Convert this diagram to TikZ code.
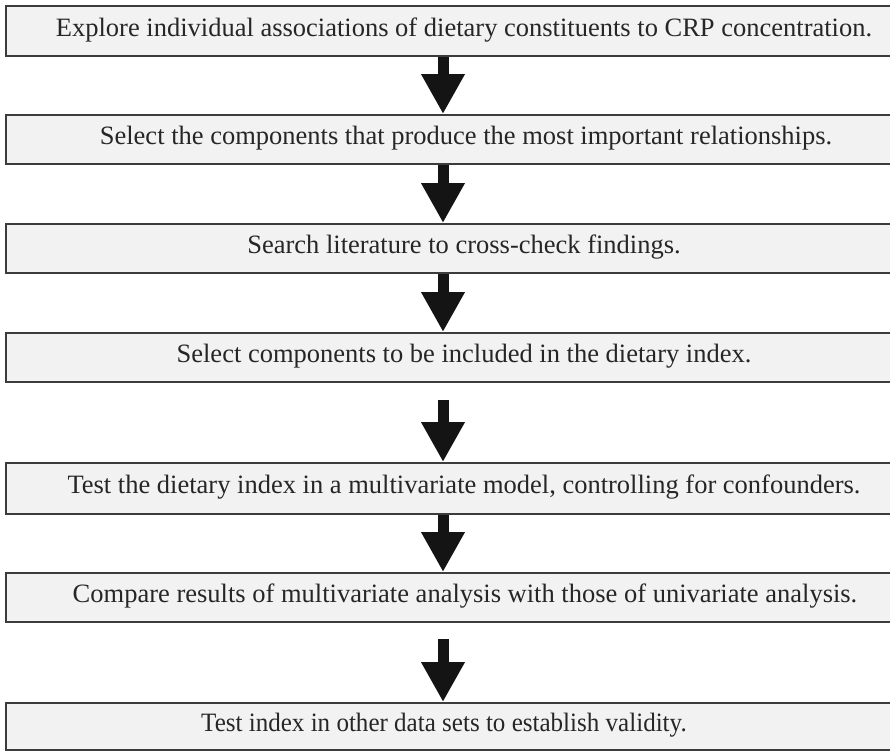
\documentclass[tikz,border=0pt]{standalone}
\usepackage{fontspec}
\setmainfont{Liberation Serif}
\usetikzlibrary{arrows.meta}
\definecolor{boxfill}{HTML}{F2F2F2}
\definecolor{boxline}{HTML}{3C3C3C}
\definecolor{arrowc}{HTML}{141414}
\begin{document}
\begin{tikzpicture}[x=1pt,y=-1pt,
  stepbox/.style={draw=boxline, line width=2pt, fill=boxfill, minimum width=894pt, inner sep=0pt, anchor=north},
  steptext/.style={font=\fontsize{26.5pt}{30pt}\selectfont, text=black!85, inner sep=0pt},
  flowarrow/.style={draw=arrowc, line width=11pt, -{Triangle[width=41pt,length=40pt,fill=arrowc]}}
]
\useasboundingbox (0,0) rectangle (890,753);
\fill[white] (0,0) rectangle (890,753);
\coordinate (ax) at (443,0);
\node[stepbox, minimum height=50pt] (b1) at (453,5) {};
\node[stepbox, minimum height=49pt] (b2) at (453,114) {};
\node[stepbox, minimum height=49pt] (b3) at (453,223) {};
\node[stepbox, minimum height=49pt] (b4) at (453,332) {};
\node[stepbox, minimum height=51pt] (b5) at (453,462) {};
\node[stepbox, minimum height=49pt] (b6) at (453,572) {};
\node[stepbox, minimum height=47pt] (b7) at (453,702) {};
\node[steptext] (t1) at (464,30) {Explore individual associations of dietary constituents to CRP concentration.};
\node[steptext] (t2) at (466,138.5) {Select the components that produce the most important relationships.};
\node[steptext] (t3) at (464,247.5) {Search literature to cross-check findings.};
\node[steptext] (t4) at (464,356.5) {Select components to be included in the dietary index.};
\node[steptext] (t5) at (464,487.5) {Test the dietary index in a multivariate model, controlling for confounders.};
\node[steptext] (t6) at (465,596.5) {Compare results of multivariate analysis with those of univariate analysis.};
\node[steptext, xscale=0.945, transform shape] (t7) at (444,725.5) {Test index in other data sets to establish validity.};
\draw[flowarrow] (b1.south -| ax) -- (b2.north -| ax);
\draw[flowarrow] (b2.south -| ax) -- (b3.north -| ax);
\draw[flowarrow] (b3.south -| ax) -- (b4.north -| ax);
\draw[flowarrow] ([yshift=-17pt]b4.south -| ax) -- (b5.north -| ax);
\draw[flowarrow] (b5.south -| ax) -- (b6.north -| ax);
\draw[flowarrow] ([yshift=-16pt]b6.south -| ax) -- (b7.north -| ax);
\end{tikzpicture}
\end{document}
